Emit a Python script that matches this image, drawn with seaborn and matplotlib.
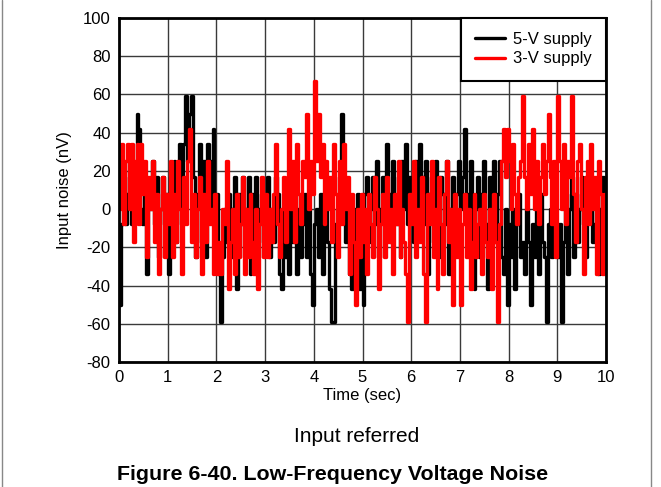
import numpy as np
import pandas as pd
import matplotlib
matplotlib.use("Agg")
import matplotlib.pyplot as plt
import seaborn as sns
from matplotlib.lines import Line2D

# ---- data (nV), sampled every 0.04 s from 0 to 10 s ----
black_5v = [
    -50, -8, 17, -8, 8, 25, -8, 17, 0, 50, 42, 0, -8, 17, -34, 8, 0, 25, -8, 17, -25, 0, 17, -8, 8,
    -34, 17, 0, 25, -17, 8, 34, -8, 34, 59, 25, 50, 59, 17, -25, 8, 34, -17, 25, -25, 34, 0, 25, 42, -8,
    8, -34, -59, -25, 0, -17, 8, -25, 0, 17, -42, 8, -8, 17, -25, 0, 17, -34, 8, -17, 17, -25, 0, 8, -17,
    -8, 17, -25, 0, -17, 17, 8, -34, -42, 0, -25, 8, -34, 0, -17, 8, -34, 0, -25, -8, 8, -25, 0, -34, -50,
    -8, 0, -25, 8, -34, -8, 0, -17, -42, -59, -59, -8, 0, 17, 50, 8, -17, 0, -34, -42, 0, -17, 8, -42, -8,
    -50, 8, 17, -17, 0, 17, -8, 25, -25, 0, 17, -8, 34, 8, -17, 25, 0, -8, 17, -25, 25, 0, 34, -8, 17,
    8, -17, 25, 0, 34, 17, -8, 25, -34, 8, 17, -17, 25, 0, -25, 17, 8, -8, 25, -34, 0, 17, -17, 8, 25,
    0, 17, 42, 8, -8, 25, -17, -42, 0, 17, -25, 8, 25, -8, -42, 17, 0, 25, -17, 8, 25, -25, -34, 0, -50,
    -8, -25, 0, -42, -8, 8, -25, -17, -34, 0, -17, -50, -8, -25, 0, -34, 8, -17, -25, -59, -8, 0, -25, 8, -17,
    -25, -8, -59, -17, 8, -34, 0, 17, -25, 8, -17, 0, 17, -8, -25, 8, 0, 17, -17, -8, 8, -34, 0, 17, 8, 8,
]
red_3v = [
    0, 34, -8, 25, 34, 0, 34, -17, 25, 34, -8, 34, 8, 25, -25, 17, 0, 25, -17, 8, -34, 0, 17, -25, 8,
    -8, 25, -25, 8, -17, 25, 0, -34, 17, -8, 25, 42, -17, 8, -25, 0, 17, -34, 8, -17, 25, -8, 0, -34, 8,
    -34, -17, -34, 0, -8, 25, -42, -17, 0, -34, 8, -25, -8, 17, -34, 0, -25, 8, -17, -34, 0, -42, -8, 17, -25,
    8, -25, 0, -17, 8, 34, -8, -25, 0, 17, -17, 8, 42, 0, 25, -17, 34, 8, -8, 25, 17, 50, 0, 25, 8,
    67, 25, 50, 17, 34, -8, 25, 0, 17, -17, 34, 8, -25, 25, -8, 34, 0, 17, -34, 8, -17, -50, 0, -25, 8,
    -17, 0, -34, 8, -8, -25, 17, 0, -42, -8, 8, -25, 17, -17, 0, -34, 8, -8, 25, -25, 0, -17, -34, -59, 8,
    -8, 25, -25, 0, -17, 17, -34, -59, 8, -8, 25, -25, 0, -42, 17, -8, -34, 8, 25, -17, 0, -50, 8, -25, 0,
    -50, -8, 8, -25, 0, -42, -17, 8, -25, -8, 0, -34, 8, -17, -25, 0, -42, 8, -17, -59, -8, 25, 42, 17, 42,
    25, 0, 34, 8, -8, 17, 25, 59, 17, 0, 34, 8, 42, 0, 25, -8, 17, 34, 8, 25, 50, 17, -8, 25, -25,
    59, 25, 0, 34, -8, 25, 17, 59, 8, -17, 25, 34, 0, -34, 17, 25, -8, 34, 0, 17, -34, 25, 8, -34, 8, 0,
]
time_s = np.linspace(0, 10, len(black_5v))
series_names = ["5-V supply", "3-V supply"]
series_colors = ["black", "red"]
x_ticks = list(range(0, 11))
y_ticks = list(range(-80, 101, 20))

df = pd.concat([
    pd.DataFrame({"Time": time_s, "Noise": black_5v, "Supply": series_names[0]}),
    pd.DataFrame({"Time": time_s, "Noise": red_3v, "Supply": series_names[1]}),
])

sns.set_style("white")
plt.rcParams["font.family"] = ["Liberation Sans", "DejaVu Sans"]
plt.rcParams["text.color"] = "black"
plt.rcParams["axes.labelcolor"] = "black"

fig = plt.figure(figsize=(6.61, 4.87), dpi=100)
ax = fig.add_axes([119 / 661, 1 - 362 / 487, (606 - 119) / 661, (362 - 18) / 487])

sns.lineplot(data=df, x="Time", y="Noise", hue="Supply", hue_order=series_names,
             palette=dict(zip(series_names, series_colors)), estimator=None, sort=False,
             drawstyle="steps-post", linewidth=2.4, legend=False, ax=ax)

ax.set_xlim(0, 10)
ax.set_ylim(-80, 100)
ax.set_xticks(x_ticks)
ax.set_yticks(y_ticks)
ax.set_xticklabels([str(v) for v in x_ticks])
ax.set_yticklabels([str(v) for v in y_ticks])
ax.tick_params(axis="both", length=0, labelsize=12, colors="black", pad=6)
ax.grid(True, color="#3a3a3a", linewidth=1.0)
ax.set_axisbelow(True)
for s in ax.spines.values():
    s.set_visible(True)
    s.set_color("black")
    s.set_linewidth(2.0)
ax.set_xlabel("Time (sec)", fontsize=12, labelpad=2, color="black")
ax.set_ylabel("Input noise (nV)", fontsize=12, labelpad=8, color="black")

handles = [Line2D([0], [0], color=c, lw=2.4) for c in series_colors]
leg = ax.legend(handles, series_names, loc="upper right", fontsize=12, frameon=True,
                fancybox=False, borderaxespad=0.0, handlelength=1.8, handletextpad=0.5,
                borderpad=0.85, labelspacing=0.25)
leg.get_frame().set_edgecolor("black")
leg.get_frame().set_linewidth(1.5)
leg.get_frame().set_alpha(1)
for t in leg.get_texts():
    t.set_color("black")

fig.text(357 / 661, 1 - 437 / 487, "Input referred", ha="center", va="center", fontsize=15,
         color="black")
fig.text(333 / 661, 1 - 475 / 487, "Figure 6-40. Low-Frequency Voltage Noise", ha="center",
         va="center", fontsize=15.4, fontweight="bold", color="black")

fig.add_artist(Line2D([1.5 / 661, 1.5 / 661], [0, 1], color="#888888", lw=1.0))
fig.add_artist(Line2D([651 / 661, 651 / 661], [0, 1], color="#888888", lw=1.0))

fig.savefig("out.png", dpi=100)
